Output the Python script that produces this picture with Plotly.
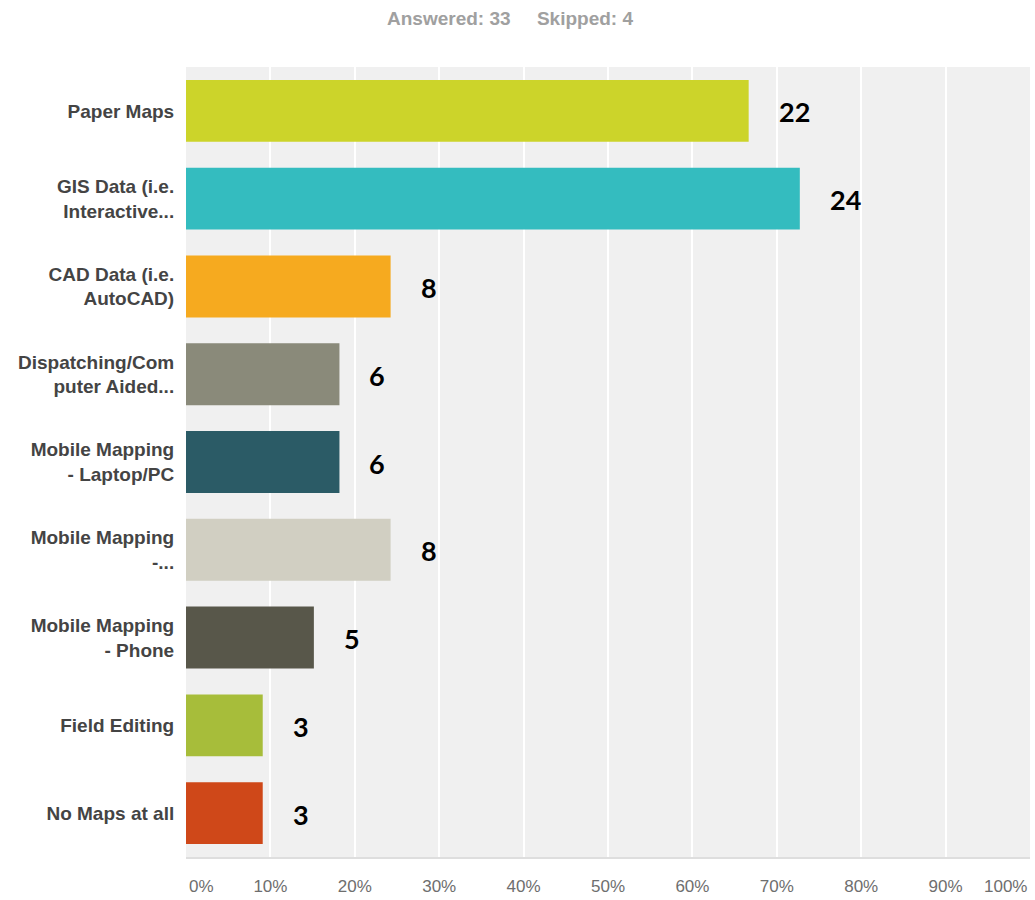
import plotly.graph_objects as go

# Survey responses: how maps are accessed
categories = [
    "Paper Maps",
    "GIS Data (i.e.<br>Interactive...",
    "CAD Data (i.e.<br>AutoCAD)",
    "Dispatching/Com<br>puter Aided...",
    "Mobile Mapping<br>- Laptop/PC",
    "Mobile Mapping<br>-...",
    "Mobile Mapping<br>- Phone",
    "Field Editing",
    "No Maps at all",
]
counts = [22, 24, 8, 6, 6, 8, 5, 3, 3]
answered = 33
skipped = 4
bar_colors = [
    "#ccd42a", "#34bcbf", "#f6aa1f", "#8a8a7a", "#2b5b66",
    "#d1cfc2", "#58574a", "#a7bd3a", "#cf4819",
]
tick_values = [0, 10, 20, 30, 40, 50, 60, 70, 80, 90, 100]
tick_labels = ["0%", "10%", "20%", "30%", "40%", "50%", "60%", "70%", "80%", "90%", "100%"]

percent = [c / answered * 100 for c in counts]

fig = go.Figure(
    go.Bar(
        y=categories,
        x=percent,
        orientation="h",
        marker=dict(color=bar_colors, line=dict(width=0)),
        hoverinfo="skip",
    )
)

# Response counts beside each bar
for cat, pct, c in zip(categories, percent, counts):
    fig.add_annotation(
        x=pct, y=cat, xref="x", yref="y",
        text=str(c), showarrow=False,
        xanchor="left", yanchor="middle", xshift=28, yshift=-1,
        font=dict(family="Lato", size=27, color="#000000", weight="bold"),
    )

tick_font = dict(family="Arial, Liberation Sans", size=17, color="#6e6e6e")

# End tick labels kept inside the plot width
inner_ticks = [v for v in tick_values if v not in (0, 100)]
inner_labels = [l for v, l in zip(tick_values, tick_labels) if v not in (0, 100)]
fig.add_annotation(
    x=0, y=0, xref="x", yref="paper", text=tick_labels[0], showarrow=False,
    xanchor="left", yanchor="top", yshift=-18, xshift=1,
    font=tick_font,
)
fig.add_annotation(
    x=100, y=0, xref="x", yref="paper", text=tick_labels[-1], showarrow=False,
    xanchor="right", yanchor="top", yshift=-18, xshift=-1,
    font=tick_font,
)

# Header line
fig.add_annotation(
    x=(510 - 186) / 844, y=1.062, xref="paper", yref="paper",
    text=f"Answered: {answered}&nbsp;&nbsp;&nbsp;&nbsp;&nbsp;Skipped: {skipped}",
    showarrow=False, xanchor="center", yanchor="middle",
    font=dict(family="Arial, Liberation Sans", size=19, color="#a0a0a0", weight="bold"),
)

fig.update_layout(
    width=1035, height=900,
    margin=dict(l=186, r=5, t=67, b=43, autoexpand=False),
    paper_bgcolor="#ffffff",
    plot_bgcolor="#f0f0f0",
    bargap=0.295,
    showlegend=False,
    xaxis=dict(
        range=[0, 100],
        tickvals=inner_ticks + [100],
        ticktext=inner_labels + [""],
        showgrid=True, gridcolor="#ffffff", gridwidth=2,
        zeroline=False,
        showline=True, linecolor="#dedede", linewidth=2,
        ticks="outside", ticklen=13, tickcolor="rgba(0,0,0,0)",
        tickfont=tick_font,
        automargin=False,
        fixedrange=True,
    ),
    yaxis=dict(
        autorange="reversed",
        showgrid=False, zeroline=False,
        ticks="outside", ticklen=7, tickcolor="rgba(0,0,0,0)",
        tickfont=dict(family="Arial, Liberation Sans", size=19, color="#444444", weight="bold"),
        automargin=False,
        fixedrange=True,
    ),
)

fig.write_html("out.html")
